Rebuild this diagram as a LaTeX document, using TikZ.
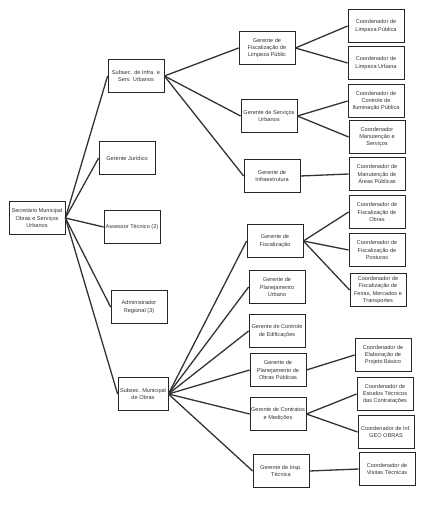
\documentclass[tikz,border=0pt]{standalone}
\usepackage{fontspec}
\setmainfont{Liberation Sans}

\begin{document}
\begin{tikzpicture}[x=1pt,y=-1pt,
  box/.style={rectangle,draw=black!85,line width=0.8pt,minimum width=56pt,minimum height=33pt,inner sep=0.5pt,align=center,font=\fontsize{5.6}{7.3}\selectfont,text=black!80},
  link/.style={draw=black!80,line width=1.3pt}]
\useasboundingbox (0,0) rectangle (445,505);
\path (37,218) node[box] (R) {Secretário Municipal\\Obras e Serviços\\Urbanos};

\path (136,76) node[box] (RA) {Subsec. de Infra. e\\Serv. Urbanos};
\path (127,158) node[box] (RB) {Gerente Jurídico};
\path (132,227) node[box] (RC) {Assessor Técnico (2)};
\path (139,307) node[box] (RD) {Administrador\\Regional (3)};
\path (143,394) node[box,minimum width=50pt] (RE) {Subsec. Municipal\\de Obras};
\foreach \k in {RA,RB,RC,RD,RE}
  \draw[link] (R.east) -- (\k.west);

\path (267,48) node[box] (RAA) {Gerente de\\Fiscalização de\\Limpeza Públic};
\path (269,116) node[box] (RAB) {Gerente de Serviços\\Urbanos};
\path (272,176) node[box] (RAC) {Gerente de\\Infraestrutura};
\foreach \k in {RAA,RAB,RAC}
  \draw[link] (RA.east) -- (\k.west);

\path (376,26) node[box] (RAAA) {Coordenador de\\Limpeza Pública};
\path (376,63) node[box] (RAAB) {Coordenador de\\Limpeza Urbana};
\draw[link] (RAA.east) -- (RAAA.west);
\draw[link] (RAA.east) -- (RAAB.west);
\path (376,101) node[box] (RABA) {Coordenador de\\Controle de\\Iluminação Pública};
\path (377,137) node[box] (RABB) {Coordenador\\Manutenção e\\Serviços};
\draw[link] (RAB.east) -- (RABA.west);
\draw[link] (RAB.east) -- (RABB.west);
\path (377,174) node[box] (RACA) {Coordenador de\\Manutenção de\\Áreas Públicas};
\draw[link] (RAC.east) -- (RACA.west);

\path (275,241) node[box] (REA) {Gerente de\\Fiscalização};
\path (277,287) node[box] (REB) {Gerente de\\Planejamento\\Urbano};
\path (277,331) node[box] (REC) {Gerente de Controle\\de Edificações};
\path (278,370) node[box] (RED) {Gerente de\\Planejamento de\\Obras Públicas};
\path (278,414) node[box] (REE) {Gerente de Contratos\\e Medições};
\path (281,471) node[box] (REF) {Gerente de Insp.\\Técnica};
\foreach \k in {REA,REB,REC,RED,REE,REF}
  \draw[link] (RE.east) -- (\k.west);

\path (377,212) node[box] (REAA) {Coordenador de\\Fiscalização de\\Obras};
\path (377,250) node[box] (REAB) {Coordenador de\\Fiscalização de\\Posturas};
\path (378,290) node[box] (REAC) {Coordenador de\\Fiscalização de\\Feiras, Mercados e\\Transportes};
\foreach \k in {REAA,REAB,REAC}
  \draw[link] (REA.east) -- (\k.west);
\path (383,355) node[box] (REDA) {Coordenador de\\Elaboração de\\Projeto Básico};
\draw[link] (RED.east) -- (REDA.west);
\path (385,394) node[box] (REEA) {Coordenador de\\Estudos Técnicos\\das Contratações};
\path (386,432) node[box] (REEB) {Coordenador de Inf.\\GEO OBRAS};
\draw[link] (REE.east) -- (REEA.west);
\draw[link] (REE.east) -- (REEB.west);
\path (387,469) node[box] (REFA) {Coordenador de\\Visitas Técnicas};
\draw[link] (REF.east) -- (REFA.west);
\end{tikzpicture}
\end{document}
